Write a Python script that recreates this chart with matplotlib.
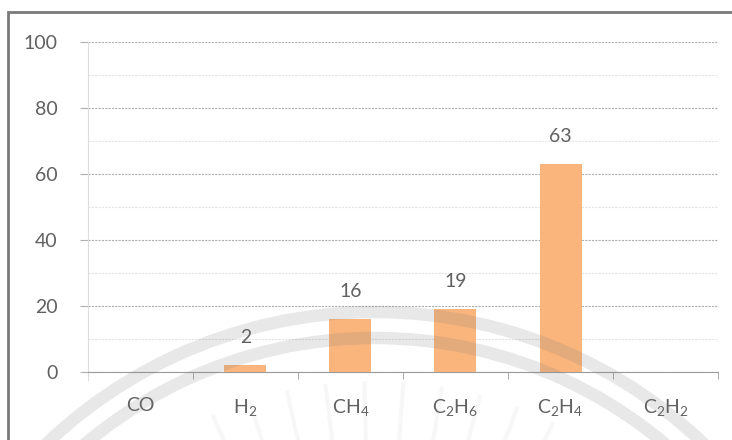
import matplotlib
matplotlib.use("Agg")
import matplotlib.pyplot as plt
import numpy as np
from matplotlib.patches import Arc, Rectangle
from matplotlib.transforms import IdentityTransform

gases = ["CO", "H$_2$", "CH$_4$", "C$_2$H$_6$", "C$_2$H$_4$", "C$_2$H$_2$"]
percent = [0, 2, 16, 19, 63, 0]
labelled = [False, True, True, True, True, False]
y_ticks = [0, 20, 40, 60, 80, 100]

plt.rcParams["font.family"] = ["Lato", "DejaVu Sans"]
plt.rcParams["mathtext.default"] = "regular"

text_col = "#606060"
bar_col = "#f9b57c"

fig = plt.figure(figsize=(7.32, 4.4), dpi=100)
ax = fig.add_axes([0.120, 0.1545, 0.861, 0.75])

x = np.arange(len(gases))
ax.bar(x, percent, width=0.4, color=bar_col, zorder=3)

for xi, v, show in zip(x, percent, labelled):
    if show:
        ax.annotate(str(v), (xi, v), xytext=(0, 14), textcoords="offset points",
                    ha="center", va="bottom", fontsize=14, color=text_col)

ax.set_xlim(-0.5, len(gases) - 0.5)
ax.set_ylim(0, 100)
ax.set_yticks(y_ticks)
ax.set_yticks(np.arange(10, 100, 20), minor=True)
ax.set_xticks(x)
ax.set_xticklabels(gases)
ax.set_xticks(np.arange(-0.5, len(gases), 1.0), minor=True)

ax.grid(axis="y", which="major", color="#b0b0b0", linestyle=(0, (2, 1)), linewidth=0.8, zorder=0)
ax.grid(axis="y", which="minor", color="#e4e4e4", linestyle=(0, (2, 1)), linewidth=0.8, zorder=0)

ax.tick_params(axis="y", which="major", length=6, color="#b0b0b0", pad=16,
               labelsize=14, labelcolor=text_col)
ax.tick_params(axis="y", which="minor", length=0)
ax.tick_params(axis="x", which="major", length=0, pad=18, labelsize=14, labelcolor=text_col)
ax.tick_params(axis="x", which="minor", length=5, color="#999999")

for s in ["top", "right"]:
    ax.spines[s].set_visible(False)
ax.spines["left"].set_color("#dddddd")
ax.spines["left"].set_bounds(-2.5, 100)
ax.spines["bottom"].set_color("#9a9a9a")

# frame around the chart area
fig.patches.append(Rectangle((8 / 732, -0.1), 1.2, 1 - 12 / 440 + 0.1, transform=fig.transFigure,
                             fill=False, edgecolor="#7a7a7a", linewidth=2))

# faint seal printed over the page
cx, cy = 375, 440 - 788
for r in (476, 450):
    fig.patches.append(Arc((cx, cy), 2 * r, 2 * r, theta1=40, theta2=140,
                           transform=IdentityTransform(), color="#808080",
                           alpha=0.18, linewidth=9, zorder=5))
for ang in np.arange(64, 118, 5.5):
    t = np.deg2rad(ang)
    r0, r1 = 350, 405
    fig.lines.append(plt.Line2D([cx + r0 * np.cos(t), cx + r1 * np.cos(t)],
                                [cy + r0 * np.sin(t), cy + r1 * np.sin(t)],
                                transform=IdentityTransform(), color="#808080",
                                alpha=0.06, linewidth=3, zorder=5))

fig.savefig("out.png", dpi=100)
